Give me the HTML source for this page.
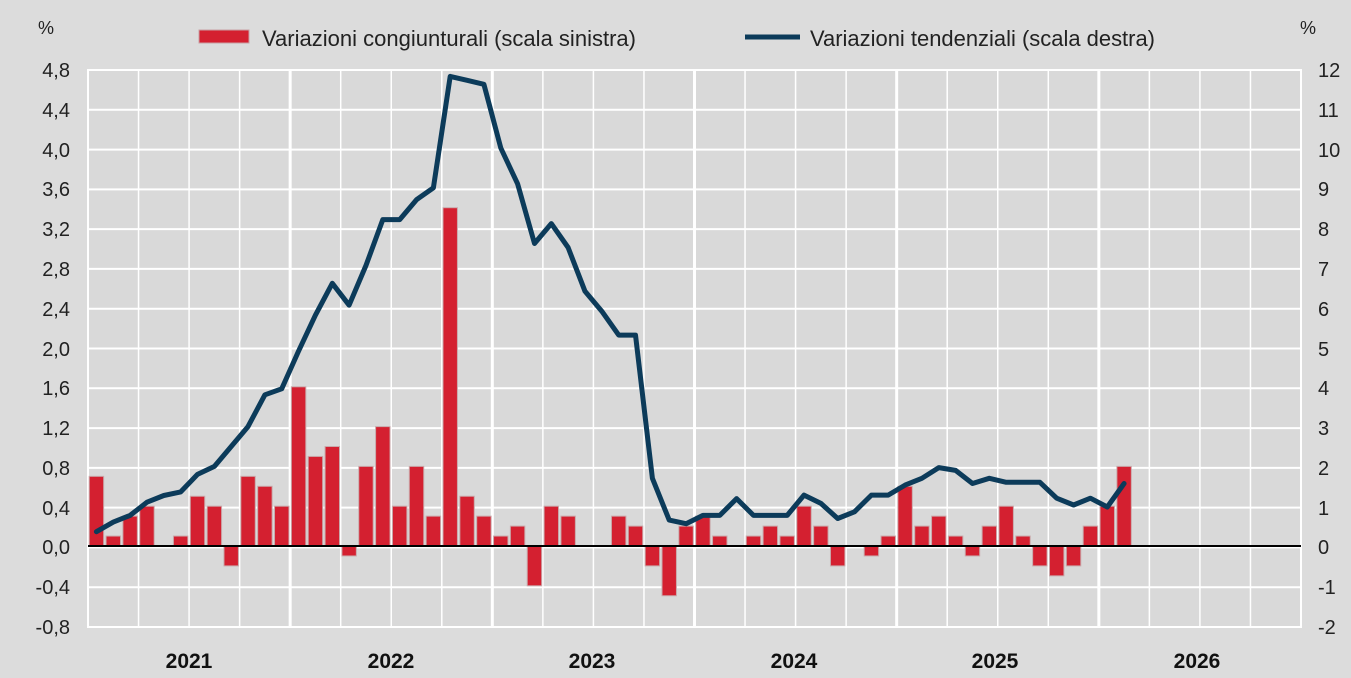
<!DOCTYPE html>
<html><head><meta charset="utf-8"><style>
body{margin:0;background:#dcdcdc;}
svg{display:block;font-family:"Liberation Sans Narrow","Liberation Sans",sans-serif;}
</style></head><body>
<svg id="s" width="1351" height="678" xmlns="http://www.w3.org/2000/svg">
<rect width="1351" height="678" fill="#dcdcdc"/>
<rect x="88" y="70" width="1213" height="557" fill="#d9d9d9" stroke="#fff" stroke-width="2"/>
<g id="grid"></g>
<g id="bars"></g>
<line x1="88" x2="1301" y1="546" y2="546" stroke="#000" stroke-width="2"/>
<polyline id="ln" fill="none" stroke="#0c3b5a" stroke-width="5" stroke-linejoin="round" stroke-linecap="round"/>
<g font-size="20" fill="#222" text-anchor="end">
<text x="70" y="77">4,8</text><text x="70" y="117">4,4</text><text x="70" y="157">4,0</text><text x="70" y="196">3,6</text><text x="70" y="236">3,2</text><text x="70" y="276">2,8</text><text x="70" y="316">2,4</text><text x="70" y="356">2,0</text><text x="70" y="395">1,6</text><text x="70" y="435">1,2</text><text x="70" y="475">0,8</text><text x="70" y="515">0,4</text><text x="70" y="554">0,0</text><text x="70" y="594">-0,4</text><text x="70" y="634">-0,8</text>
</g>
<g font-size="20" fill="#222" text-anchor="start">
<text x="1318" y="77">12</text><text x="1318" y="117">11</text><text x="1318" y="157">10</text><text x="1318" y="196">9</text><text x="1318" y="236">8</text><text x="1318" y="276">7</text><text x="1318" y="316">6</text><text x="1318" y="356">5</text><text x="1318" y="395">4</text><text x="1318" y="435">3</text><text x="1318" y="475">2</text><text x="1318" y="515">1</text><text x="1318" y="554">0</text><text x="1318" y="594">-1</text><text x="1318" y="634">-2</text>
</g>
<text x="38" y="34" font-size="18" fill="#222">%</text>
<text x="1300" y="34" font-size="18" fill="#222">%</text>
<rect x="199" y="30" width="50" height="13" fill="#d42030" stroke="#c8a0a4" stroke-width="1"/>
<text x="262" y="46" font-size="22" fill="#222" textLength="374" lengthAdjust="spacingAndGlyphs">Variazioni congiunturali (scala sinistra)</text>
<line x1="745" x2="800" y1="37" y2="37" stroke="#0c3b5a" stroke-width="5"/>
<text x="810" y="46" font-size="22" fill="#222" textLength="345" lengthAdjust="spacingAndGlyphs">Variazioni tendenziali (scala destra)</text>
<g font-size="21" font-weight="bold" fill="#111" text-anchor="middle">
<text x="189" y="668">2021</text><text x="391" y="668">2022</text><text x="592" y="668">2023</text><text x="794" y="668">2024</text><text x="995" y="668">2025</text><text x="1197" y="668">2026</text>
</g>
</svg>
<script>
var NS="http://www.w3.org/2000/svg",x0=88,mw=(1301-88)/72,z=546,u=39.8/0.4,ur=39.8;
var g=document.getElementById('grid'),b=document.getElementById('bars');
function el(t,a,p){var e=document.createElementNS(NS,t);for(var k in a)e.setAttribute(k,a[k]);p.appendChild(e);}
for(var i=1;i<14;i++){var y=70+i*557/14;el('line',{x1:88,x2:1301,y1:y,y2:y,stroke:'#fff','stroke-width':2},g);}
for(var q=1;q<24;q++){var x=x0+q*mw*3;el('line',{x1:x,x2:x,y1:70,y2:627,stroke:'#fff','stroke-width':q%4==0?3:1.5},g);}
var bars=[0.7,0.1,0.3,0.4,0,0.1,0.5,0.4,-0.2,0.7,0.6,0.4,
1.6,0.9,1.0,-0.1,0.8,1.2,0.4,0.8,0.3,3.4,0.5,0.3,
0.1,0.2,-0.4,0.4,0.3,0,0,0.3,0.2,-0.2,-0.5,0.2,
0.3,0.1,0,0.1,0.2,0.1,0.4,0.2,-0.2,0,-0.1,0.1,
0.6,0.2,0.3,0.1,-0.1,0.2,0.4,0.1,-0.2,-0.3,-0.2,0.2,
0.4,0.8];
var line=[0.36,0.6,0.77,1.1,1.27,1.36,1.8,2.0,2.5,3.0,3.8,3.95,
4.9,5.8,6.6,6.05,7.05,8.2,8.2,8.7,9.0,11.8,11.7,11.6,
10.0,9.1,7.6,8.1,7.5,6.4,5.9,5.3,5.3,1.7,0.65,0.56,
0.77,0.77,1.19,0.77,0.77,0.77,1.28,1.07,0.69,0.86,1.28,1.28,
1.53,1.7,1.97,1.9,1.57,1.7,1.6,1.6,1.6,1.2,1.03,1.2,
0.98,1.57];
bars.forEach(function(v,i){if(v==0)return;var h=Math.abs(v)*u,x=x0+i*mw+1.2;
el('rect',{x:x,y:v>0?z-h:z,width:mw-2.4,height:h,fill:'#d42030',stroke:'#c9a9ab','stroke-width':1},b);});
document.getElementById('ln').setAttribute('points',line.map(function(v,i){return (x0+(i+0.5)*mw).toFixed(1)+','+(z-v*ur).toFixed(1);}).join(' '));
</script>
</body></html>
